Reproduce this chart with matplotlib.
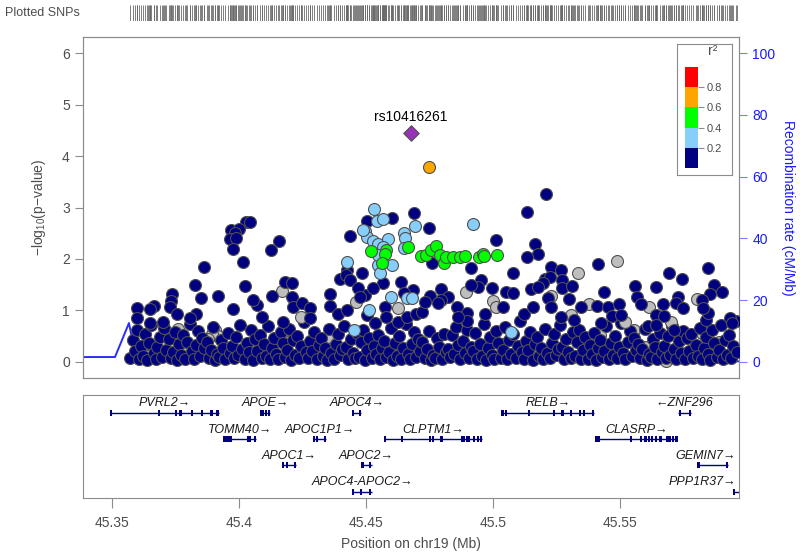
import numpy as np
import matplotlib
matplotlib.use("Agg")
import matplotlib.pyplot as plt
from matplotlib.patches import Rectangle

plt.rcParams["font.family"] = ["Liberation Sans", "DejaVu Sans"]
plt.rcParams["mathtext.fontset"] = "custom"
plt.rcParams["mathtext.rm"] = "Liberation Sans"

# ---- association results: (position Mb, -log10 p), grouped by LD class ----
index_snp = (45.4677, 4.45)
index_name = "rs10416261"

orange_snps = [(45.4748, 3.79)]

green_snps = [
    (45.4519, 2.16), (45.4579, 2.17), (45.4575, 2.10), (45.4564, 1.93), (45.4667, 2.23),
    (45.4716, 2.06), (45.4737, 2.08), (45.4757, 2.17), (45.4777, 2.25), (45.4790, 2.08),
    (45.4809, 1.93), (45.4816, 2.03), (45.4843, 2.03), (45.4869, 2.03), (45.4889, 2.06),
    (45.4944, 2.03), (45.4961, 2.09), (45.4966, 2.06), (45.5016, 2.07),
]

lightblue_snps = [
    (45.4533, 2.97), (45.4542, 2.74), (45.4568, 2.77), (45.4496, 2.55), (45.4505, 2.43),
    (45.4527, 2.34), (45.4548, 2.30), (45.4588, 2.39), (45.4568, 2.24), (45.4650, 2.51),
    (45.4654, 2.40), (45.4650, 2.21), (45.4693, 2.64), (45.4424, 1.95), (45.4548, 1.88),
    (45.4555, 1.72), (45.4603, 1.88), (45.4548, 2.08), (45.4489, 2.56), (45.4597, 1.26),
    (45.4660, 1.24), (45.4680, 1.24), (45.4513, 1.01), (45.4454, 0.62), (45.4922, 2.67),
    (45.5071, 0.58),
]

# no LD information, above the band
grey_snps = [
    (45.4168, 1.38), (45.4244, 0.87), (45.4460, 1.16), (45.4627, 1.04),
    (45.4895, 1.35), (45.5000, 1.19), (45.5013, 1.06), (45.5227, 1.28),
    (45.5306, 0.91), (45.5337, 1.73), (45.5487, 1.97), (45.5377, 1.13), (45.5802, 1.22),
    (45.5613, 1.07), (45.5521, 0.78), (45.5701, 0.78),
]
# no LD information, inside the band
grey_band = [
    (45.3760, 0.64), (45.3904, 0.62), (45.3917, 0.51), (45.3893, 0.55), (45.3880, 0.45),
    (45.3710, 0.60), (45.4352, 0.49), (45.5554, 0.62), (45.5681, 0.01), (45.5825, 0.56),
    (45.3640, 0.35), (45.3790, 0.28), (45.4010, 0.12), (45.4200, 0.40), (45.4570, 0.22),
    (45.4850, 0.14), (45.5040, 0.34), (45.5150, 0.06), (45.5420, 0.52), (45.5600, 0.30),
    (45.5750, 0.08), (45.5890, 0.38),
]

navy_peaks = [
    (45.4028, 2.72), (45.4042, 2.71), (45.3969, 2.56), (45.4000, 2.58), (45.3985, 2.50),
    (45.3963, 2.39), (45.3989, 2.41), (45.3976, 2.19), (45.4016, 1.94), (45.3862, 1.84),
    (45.3827, 1.50), (45.4024, 1.48), (45.3850, 1.24), (45.3917, 1.28), (45.3736, 1.32),
    (45.3732, 1.18), (45.3728, 1.07), (45.3598, 1.05), (45.3598, 0.85), (45.3665, 1.09),
    (45.3650, 1.03), (45.3650, 0.76), (45.3756, 0.93), (45.3831, 0.93), (45.3976, 1.03),
    (45.3807, 0.85), (45.3701, 0.78),
    (45.4156, 2.34), (45.4125, 2.17), (45.4437, 2.45), (45.4601, 2.80), (45.4690, 2.89),
    (45.4505, 2.74), (45.4483, 1.73), (45.4424, 1.79), (45.4398, 1.62), (45.4420, 1.68),
    (45.4437, 1.59), (45.4566, 1.53), (45.4640, 1.56), (45.4181, 1.56), (45.4208, 1.53),
    (45.4129, 1.28), (45.4208, 1.27), (45.4358, 1.32), (45.4213, 1.07), (45.4247, 1.15),
    (45.4280, 1.05), (45.4496, 1.30), (45.4469, 1.44), (45.4528, 1.43), (45.4575, 1.07),
    (45.4686, 1.40), (45.4650, 1.34), (45.4070, 1.11), (45.4056, 1.20), (45.4089, 0.88),
    (45.4174, 0.78), (45.4280, 0.85), (45.4358, 1.08), (45.4391, 0.94), (45.4424, 1.01),
    (45.4503, 0.91), (45.4535, 0.75), (45.4581, 0.88), (45.4627, 0.78), (45.4660, 0.88),
    (45.4699, 0.94), (45.4476, 1.27),
    (45.4747, 2.61), (45.5209, 3.26), (45.5133, 2.92), (45.5011, 2.36), (45.5167, 2.30),
    (45.5178, 2.09), (45.5133, 2.03), (45.5078, 1.73), (45.4913, 1.83), (45.4761, 1.93),
    (45.5228, 1.84), (45.5267, 1.79), (45.4954, 1.59), (45.4941, 1.46), (45.4915, 1.50),
    (45.5207, 1.62), (45.5223, 1.66), (45.5197, 1.53), (45.5273, 1.59), (45.5272, 1.43),
    (45.5311, 1.48), (45.4797, 1.41), (45.4751, 1.28), (45.4823, 1.27), (45.4796, 1.20),
    (45.4996, 1.43), (45.5052, 1.35), (45.5079, 1.33), (45.5151, 1.41), (45.5177, 1.46),
    (45.5217, 1.25), (45.5298, 1.22), (45.4860, 1.07), (45.4899, 0.96), (45.4899, 0.80),
    (45.5348, 1.07), (45.4722, 0.98), (45.5039, 1.07), (45.5124, 0.94), (45.5157, 1.07),
    (45.5228, 1.07), (45.5268, 0.88), (45.5321, 0.82), (45.4783, 1.14), (45.4862, 0.88),
    (45.4967, 0.94), (45.4731, 1.17),
    (45.5412, 1.90), (45.5692, 1.73), (45.5848, 1.82), (45.5744, 1.61), (45.5560, 1.48),
    (45.5644, 1.45), (45.5871, 1.50), (45.5902, 1.35), (45.5438, 1.35), (45.5567, 1.27),
    (45.5727, 1.27), (45.5854, 1.32), (45.5825, 1.20), (45.5409, 1.09), (45.5455, 1.07),
    (45.5497, 1.13), (45.5583, 1.13), (45.5671, 1.13), (45.5720, 1.14), (45.5747, 1.05),
    (45.5469, 0.90), (45.5504, 0.91), (45.5644, 0.91), (45.5672, 0.89), (45.5609, 0.70),
    (45.5644, 0.72), (45.5425, 0.75), (45.5714, 0.63), (45.5933, 0.85), (45.5943, 0.75),
    (45.5839, 0.82), (45.5845, 0.95), (45.5828, 1.04),
]

# the dense low band (r2 < 0.2)
navy_band = [
    (45.3573, 0.07), (45.3581, 0.42), (45.3589, 0.21), (45.3597, 0.63), (45.3606, 0.05), (45.3614, 0.31),
    (45.3622, 0.12), (45.3630, 0.55), (45.3639, 0.04), (45.3647, 0.36), (45.3655, 0.71), (45.3664, 0.18),
    (45.3672, 0.06), (45.3679, 0.29), (45.3688, 0.48), (45.3696, 0.09), (45.3705, 0.66), (45.3713, 0.24),
    (45.3723, 0.44), (45.3731, 0.08), (45.3740, 0.19), (45.3748, 0.58), (45.3757, 0.03), (45.3764, 0.35),
    (45.3772, 0.14), (45.3780, 0.52), (45.3789, 0.06), (45.3797, 0.39), (45.3806, 0.74), (45.3815, 0.22),
    (45.3822, 0.05), (45.3830, 0.33), (45.3838, 0.61), (45.3847, 0.11), (45.3855, 0.46), (45.3863, 0.27),
    (45.3873, 0.38), (45.3881, 0.07), (45.3889, 0.23), (45.3898, 0.67), (45.3906, 0.04), (45.3915, 0.15),
    (45.3921, 0.09), (45.3929, 0.43), (45.3938, 0.28), (45.3946, 0.05), (45.3955, 0.57), (45.3963, 0.17),
    (45.3972, 0.32), (45.3980, 0.08), (45.3988, 0.49), (45.3997, 0.13), (45.4005, 0.72), (45.4013, 0.26),
    (45.4022, 0.06), (45.4031, 0.37), (45.4039, 0.19), (45.4047, 0.62), (45.4056, 0.04), (45.4064, 0.45),
    (45.4073, 0.21), (45.4081, 0.53), (45.4090, 0.07), (45.4098, 0.34), (45.4106, 0.12), (45.4115, 0.69),
    (45.4122, 0.05), (45.4130, 0.28), (45.4139, 0.47), (45.4147, 0.16), (45.4155, 0.06), (45.4164, 0.59),
    (45.4172, 0.36), (45.4180, 0.09), (45.4189, 0.24), (45.4197, 0.65), (45.4206, 0.03), (45.4214, 0.42),
    (45.4221, 0.14), (45.4230, 0.51), (45.4238, 0.07), (45.4246, 0.31), (45.4255, 0.77), (45.4263, 0.19),
    (45.4272, 0.08), (45.4281, 0.40), (45.4289, 0.22), (45.4297, 0.58), (45.4306, 0.05), (45.4314, 0.33),
    (45.4322, 0.46), (45.4331, 0.11), (45.4339, 0.27), (45.4347, 0.04), (45.4356, 0.64), (45.4364, 0.17),
    (45.4373, 0.06), (45.4381, 0.35), (45.4389, 0.54), (45.4398, 0.13), (45.4406, 0.25), (45.4414, 0.70),
    (45.4423, 0.29), (45.4431, 0.05), (45.4440, 0.44), (45.4448, 0.18), (45.4456, 0.07), (45.4465, 0.56),
    (45.4472, 0.10), (45.4481, 0.38), (45.4489, 0.62), (45.4497, 0.04), (45.4506, 0.23), (45.4514, 0.47),
    (45.4522, 0.07), (45.4530, 0.32), (45.4539, 0.15), (45.4547, 0.53), (45.4556, 0.06), (45.4564, 0.28),
    (45.4573, 0.41), (45.4581, 0.09), (45.4589, 0.20), (45.4598, 0.66), (45.4606, 0.04), (45.4614, 0.36),
    (45.4622, 0.12), (45.4631, 0.50), (45.4639, 0.06), (45.4647, 0.27), (45.4656, 0.73), (45.4664, 0.16),
    (45.4672, 0.05), (45.4681, 0.34), (45.4689, 0.58), (45.4697, 0.10), (45.4706, 0.45), (45.4714, 0.22),
    (45.4722, 0.39), (45.4731, 0.07), (45.4739, 0.25), (45.4747, 0.61), (45.4756, 0.03), (45.4764, 0.14),
    (45.4773, 0.08), (45.4781, 0.47), (45.4789, 0.30), (45.4798, 0.06), (45.4806, 0.55), (45.4814, 0.19),
    (45.4822, 0.26), (45.4831, 0.09), (45.4839, 0.52), (45.4847, 0.15), (45.4856, 0.68), (45.4864, 0.33),
    (45.4872, 0.05), (45.4881, 0.40), (45.4889, 0.18), (45.4897, 0.63), (45.4906, 0.07), (45.4914, 0.29),
    (45.4923, 0.21), (45.4931, 0.57), (45.4939, 0.06), (45.4948, 0.35), (45.4956, 0.11), (45.4964, 0.74),
    (45.4972, 0.04), (45.4981, 0.27), (45.4989, 0.49), (45.4997, 0.13), (45.5006, 0.06), (45.5014, 0.60),
    (45.5022, 0.37), (45.5031, 0.08), (45.5039, 0.23), (45.5047, 0.67), (45.5056, 0.05), (45.5064, 0.43),
    (45.5073, 0.15), (45.5081, 0.54), (45.5089, 0.07), (45.5098, 0.32), (45.5106, 0.79), (45.5114, 0.20),
    (45.5122, 0.06), (45.5131, 0.41), (45.5139, 0.24), (45.5147, 0.59), (45.5156, 0.04), (45.5164, 0.34),
    (45.5172, 0.48), (45.5181, 0.12), (45.5189, 0.28), (45.5197, 0.05), (45.5206, 0.65), (45.5214, 0.18),
    (45.5223, 0.07), (45.5231, 0.36), (45.5239, 0.55), (45.5248, 0.14), (45.5256, 0.26), (45.5264, 0.71),
    (45.5272, 0.30), (45.5281, 0.06), (45.5289, 0.45), (45.5297, 0.19), (45.5306, 0.08), (45.5314, 0.58),
    (45.5322, 0.11), (45.5331, 0.39), (45.5339, 0.63), (45.5347, 0.05), (45.5356, 0.24), (45.5364, 0.49),
    (45.5373, 0.06), (45.5381, 0.33), (45.5389, 0.16), (45.5398, 0.56), (45.5406, 0.04), (45.5414, 0.27),
    (45.5422, 0.42), (45.5431, 0.09), (45.5439, 0.21), (45.5447, 0.69), (45.5456, 0.05), (45.5464, 0.37),
    (45.5472, 0.13), (45.5481, 0.51), (45.5489, 0.07), (45.5497, 0.30), (45.5506, 0.76), (45.5514, 0.17),
    (45.5522, 0.05), (45.5531, 0.38), (45.5539, 0.60), (45.5547, 0.12), (45.5556, 0.46), (45.5564, 0.23),
    (45.5572, 0.35), (45.5581, 0.08), (45.5589, 0.26), (45.5598, 0.64), (45.5606, 0.04), (45.5614, 0.15),
    (45.5622, 0.09), (45.5631, 0.44), (45.5639, 0.29), (45.5647, 0.06), (45.5656, 0.57), (45.5664, 0.20),
    (45.5672, 0.31), (45.5681, 0.07), (45.5689, 0.50), (45.5697, 0.14), (45.5706, 0.70), (45.5714, 0.25),
    (45.5722, 0.05), (45.5731, 0.40), (45.5739, 0.18), (45.5747, 0.61), (45.5756, 0.06), (45.5764, 0.47),
    (45.5773, 0.22), (45.5781, 0.55), (45.5789, 0.08), (45.5798, 0.33), (45.5806, 0.12), (45.5814, 0.66),
    (45.5822, 0.06), (45.5831, 0.27), (45.5839, 0.48), (45.5847, 0.15), (45.5856, 0.04), (45.5864, 0.62),
    (45.5872, 0.37), (45.5881, 0.09), (45.5889, 0.24), (45.5897, 0.72), (45.5906, 0.05), (45.5914, 0.43),
    (45.5922, 0.13), (45.5931, 0.52), (45.5939, 0.07), (45.5947, 0.31), (45.5956, 0.80), (45.5963, 0.19),
]

# recombination rate (cM/Mb)
recomb_pos = [45.3386, 45.3512, 45.3567, 45.3590, 45.3800, 45.4000, 45.4200, 45.4400,
              45.4500, 45.4700, 45.5000, 45.5200, 45.5500, 45.5700, 45.5800, 45.5969]
recomb_rate = [1.6, 1.6, 12.6, 3.0, 1.5, 2.5, 1.0, 0.8, 2.0, 0.5, 0.3, 1.2, 0.6, 3.9, 1.0, 0.2]

# genes
gene_names = ["PVRL2", "APOE", "APOC4", "TOMM40", "APOC1P1", "CLPTM1", "APOC1", "APOC2",
              "APOC4-APOC2", "RELB", "ZNF296", "CLASRP", "GEMIN7", "PPP1R37"]
gene_starts = [45.3495, 45.4084, 45.4448, 45.3938, 45.4293, 45.4572, 45.4174, 45.4483,
               45.4448, 45.5034, 45.5730, 45.5408, 45.5810, 45.5946]
gene_ends = [45.3921, 45.4122, 45.4480, 45.4067, 45.4343, 45.4956, 45.4223, 45.4522,
             45.4522, 45.5398, 45.5780, 45.5726, 45.5924, 45.6200]
gene_strands = ["+", "+", "+", "+", "+", "+", "+", "+", "+", "+", "-", "+", "+", "+"]
gene_rows = [0, 0, 0, 1, 1, 1, 2, 2, 3, 0, 0, 1, 2, 3]
gene_exons = [
    [45.3495, 45.3685, 45.3752, 45.3770, 45.3816, 45.3855, 45.3892, 45.3916],
    [45.4087, 45.4096, 45.4106, 45.4118],
    [45.4450, 45.4476],
    [45.3941, 45.3948, 45.3958, 45.3967, 45.4038, 45.4043, 45.4063],
    [45.4295, 45.4306, 45.4339],
    [45.4574, 45.4643, 45.4752, 45.4765, 45.4798, 45.4877, 45.4887, 45.4900, 45.4907,
     45.4926, 45.4942, 45.4952],
    [45.4174, 45.4190, 45.4220],
    [45.4487, 45.4516],
    [45.4450, 45.4480, 45.4516],
    [45.5038, 45.5051, 45.5142, 45.5240, 45.5274, 45.5307, 45.5343, 45.5359, 45.5395],
    [45.5736, 45.5777],
    [45.5408, 45.5418, 45.5543, 45.5583, 45.5601, 45.5614, 45.5627, 45.5641, 45.5660,
     45.5688, 45.5697, 45.5710, 45.5723],
    [45.5810, 45.5921],
    [45.5948],
]

x_ticks = [45.35, 45.40, 45.45, 45.50, 45.55]
x_tick_labels = ["45.35", "45.4", "45.45", "45.5", "45.55"]
legend_bounds = [0.0, 0.2, 0.4, 0.6, 0.8, 1.0]
legend_colors = ["#000080", "#87CEFA", "#00FF00", "#FFA500", "#FF0000"]

XMIN, XMAX = 45.3386, 45.5969
TEXT_GREY = "#4d4d4d"
FRAME_GREY = "#8c8c8c"
EDGE = "#505050"
MS = 74


def scatter(ax, pts, color, z):
    xs = [p[0] for p in pts]
    ys = [p[1] for p in pts]
    ax.scatter(xs, ys, s=MS, c=color, edgecolors=EDGE, linewidths=0.8, zorder=z)


fig = plt.figure(figsize=(8, 5.58), dpi=100)
L, W = 83 / 800, 656 / 800

# --- plotted SNPs rug ---
all_snps = (navy_band + navy_peaks + grey_snps + grey_band + lightblue_snps
            + green_snps + orange_snps + [index_snp])
ax_rug = fig.add_axes([L, 1 - 21 / 558, W, 16 / 558])
ax_rug.vlines([p[0] for p in all_snps], 0, 1, color="#6a6a6a", lw=0.6)
ax_rug.set_xlim(XMIN, XMAX)
ax_rug.set_ylim(0, 1)
ax_rug.axis("off")
fig.text(5 / 800, 1 - 13 / 558, "Plotted SNPs", color=TEXT_GREY, fontsize=9, va="center")

# --- association panel ---
ax = fig.add_axes([L, 1 - 378 / 558, W, 341 / 558])
ax2 = ax.twinx()
ax2.plot(recomb_pos, recomb_rate, color="#2b2bff", lw=1.4)
ax2.set_ylim(-0.311 * 100 / 6, 6.311 * 100 / 6)
ax2.set_yticks([0, 20, 40, 60, 80, 100])
ax2.tick_params(axis="y", colors="#7d7dff", labelcolor="#1a1aff", length=6, labelsize=10)
ax2.set_ylabel("Recombination rate (cM/Mb)", color="#1a1aff", fontsize=10, rotation=270, labelpad=14)
ax.set_zorder(ax2.get_zorder() + 1)
ax.patch.set_visible(False)

scatter(ax, grey_band, "#BEBEBE", 2)
scatter(ax, navy_band, "#000080", 3)
scatter(ax, grey_snps, "#BEBEBE", 4)
scatter(ax, navy_peaks, "#000080", 5)
scatter(ax, lightblue_snps, "#87CEFA", 6)
scatter(ax, green_snps, "#00FF00", 7)
scatter(ax, orange_snps, "#FFA500", 8)
ax.scatter([index_snp[0]], [index_snp[1]], s=62, marker="D", c="#9632B8",
           edgecolors=EDGE, linewidths=0.8, zorder=9)
ax.text(index_snp[0], index_snp[1] + 0.17, index_name, ha="center", va="bottom", fontsize=10)

ax.set_xlim(XMIN, XMAX)
ax.set_ylim(-0.311, 6.311)
ax.set_xticks([])
ax.set_yticks(range(7))
ax.tick_params(axis="y", colors=FRAME_GREY, labelcolor=TEXT_GREY, length=6, labelsize=10)
ax.set_ylabel("−log$_{10}$(p−value)", color=TEXT_GREY, fontsize=10, labelpad=10)
for a in (ax, ax2):
    for s in a.spines.values():
        s.set_color(FRAME_GREY)
        s.set_linewidth(0.8)

# --- r2 legend ---
ax_leg = fig.add_axes([677 / 800, 1 - 175 / 558, 55 / 800, 131 / 558])
ax_leg.set_xticks([])
ax_leg.set_yticks([])
for s in ax_leg.spines.values():
    s.set_color(FRAME_GREY)
ax_leg.set_zorder(20)
ax_cb = fig.add_axes([685 / 800, 1 - 168 / 558, 13 / 800, 101 / 558])
ax_cb.bar([0] * 5, np.diff(legend_bounds), bottom=legend_bounds[:-1], width=1,
          color=legend_colors, align="center")
ax_cb.set_xlim(-0.5, 0.5)
ax_cb.set_ylim(0, 1)
ax_cb.set_xticks([])
ax_cb.set_yticks(legend_bounds[1:-1])
ax_cb.set_yticklabels([f"{b:.1f}" for b in legend_bounds[1:-1]])
ax_cb.tick_params(axis="y", left=False, right=True, labelleft=False, labelright=True,
                  length=4, colors=FRAME_GREY, labelcolor=TEXT_GREY, labelsize=8, pad=2)
for s in ax_cb.spines.values():
    s.set_visible(False)
ax_cb.set_zorder(21)
fig.text(713 / 800, 1 - 51 / 558, "r²", color=TEXT_GREY, fontsize=10, ha="center", va="center", zorder=22)

# --- gene panel ---
axg = fig.add_axes([L, 1 - 498 / 558, W, 103 / 558])
axg.set_xlim(XMIN, XMAX)
axg.set_ylim(3.24, -0.67)
axg.set_yticks([])
axg.set_xticks(x_ticks)
axg.set_xticklabels(x_tick_labels)
axg.tick_params(axis="x", colors=FRAME_GREY, labelcolor=TEXT_GREY, length=7, labelsize=10, pad=6)
axg.set_xlabel("Position on chr19 (Mb)", color=TEXT_GREY, fontsize=10, labelpad=5)
for s in axg.spines.values():
    s.set_color(FRAME_GREY)
    s.set_linewidth(0.8)

gene_texts = []
for name, st, en, strand, row, exons in zip(gene_names, gene_starts, gene_ends,
                                           gene_strands, gene_rows, gene_exons):
    axg.plot([st, en], [row, row], color="#000080", lw=1.0, solid_capstyle="butt")
    for e in exons:
        axg.add_patch(Rectangle((e - 0.00045, row - 0.11), 0.0009, 0.22,
                                facecolor="#000080", edgecolor="none"))
    label = name + "→" if strand == "+" else "←" + name
    t = axg.text((st + en) / 2, row - 0.36, label, ha="center", va="center",
                 fontsize=9, style="italic", color="#1a1a1a")
    gene_texts.append(t)

# keep labels inside the panel
fig.canvas.draw()
renderer = fig.canvas.get_renderer()
gbox = axg.get_window_extent(renderer)
per_px = (XMAX - XMIN) / gbox.width
for t in gene_texts:
    bb = t.get_window_extent(renderer)
    if bb.x1 > gbox.x1 - 3:
        x0, y0 = t.get_position()
        t.set_position((x0 - (bb.x1 - gbox.x1 + 3) * per_px, y0))

fig.savefig("out.png", dpi=100)
